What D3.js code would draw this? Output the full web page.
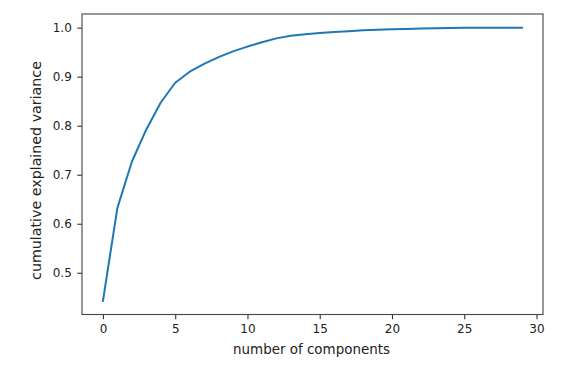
<!DOCTYPE html>
<html><head><meta charset="utf-8">
<script src="https://cdn.jsdelivr.net/npm/d3@7"></script>
<style>body{margin:0;background:#fff}text{font-family:"DejaVu Sans",sans-serif}</style>
</head><body><svg id="c" width="581" height="373"></svg>
<script>
const components = d3.range(30);
const cumulativeVariance = [0.4427,0.6324,0.7264,0.7924,0.8473,0.8876,0.9101,0.9260,0.9399,0.9516,
0.9614,0.9701,0.9781,0.9834,0.9865,0.9892,0.9911,0.9929,0.9945,0.9956,
0.9966,0.9975,0.9983,0.9989,0.9994,0.9997,0.9999,0.99998,0.999995,1.0];
const xTicks = [0,5,10,15,20,25,30];
const yTicks = [0.5,0.6,0.7,0.8,0.9,1.0];
const xLabel = "number of components";
const yLabel = "cumulative explained variance";

const svg = d3.select("#c");
const L=82,R=543,T=14,B=314.5;
const x = d3.scaleLinear().domain([-1.45,30.45]).range([L,R]);
const y = d3.scaleLinear().domain([0.41485,1.02785]).range([B,T]);
const ink = "#222";

const gx = svg.append("g").attr("transform",`translate(0,${B})`)
  .call(d3.axisBottom(x).tickValues(xTicks).tickSize(4.7).tickPadding(5).tickFormat(d3.format("d")));
const gy = svg.append("g").attr("transform",`translate(${L},0)`)
  .call(d3.axisLeft(y).tickValues(yTicks).tickSize(4.7).tickPadding(5.5).tickFormat(d3.format(".1f")));
[gx,gy].forEach(g=>{
  g.select(".domain").remove();
  g.selectAll(".tick line").attr("stroke","#333").attr("stroke-width",1.1);
  g.selectAll(".tick text").attr("font-size",12).attr("fill",ink).attr("font-family","DejaVu Sans");
});
svg.append("rect").attr("x",L).attr("y",T).attr("width",R-L).attr("height",B-T)
  .attr("fill","none").attr("stroke","#444").attr("stroke-width",1.1);

svg.append("path").datum(components)
  .attr("fill","none").attr("stroke","#1f77b4").attr("stroke-width",2)
  .attr("stroke-linejoin","round").attr("stroke-linecap","square")
  .attr("d", d3.line().x(i=>x(i)).y(i=>y(cumulativeVariance[i])));

function fit(t, target){
  const w = t.node().getComputedTextLength();
  t.attr("font-size", 10*target/w);
}
const xl = svg.append("text").attr("x",311.5).attr("y",354).attr("text-anchor","middle")
  .attr("font-size",10).attr("fill",ink).text(xLabel);
fit(xl,157);
const yl = svg.append("text").attr("transform",`translate(40.5,170.5) rotate(-90)`).attr("text-anchor","middle")
  .attr("font-size",10).attr("fill",ink).text(yLabel);
fit(yl,219);
</script></body></html>
